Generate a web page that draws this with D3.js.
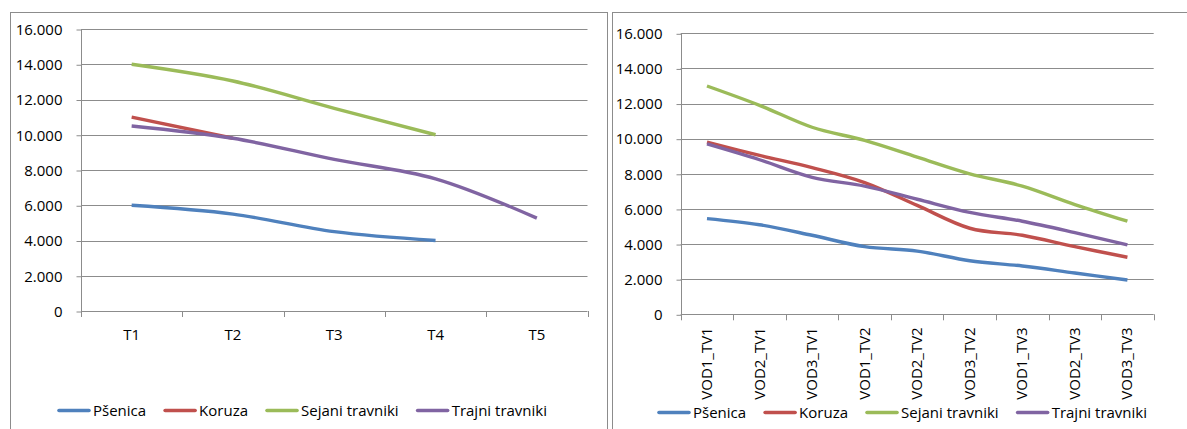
<!DOCTYPE html>
<html>
<head>
<meta charset="utf-8">
<script src="https://cdn.jsdelivr.net/npm/d3@7"></script>
<style>
  html, body { margin: 0; padding: 0; background: #fff; }
  svg { display: block; }
  text { font-family: "Open Sans", Lato, "Liberation Sans", sans-serif; fill: #000; }
</style>
</head>
<body>
<svg id="chart" width="1187" height="429"></svg>
<script>
// Series names and colours (shared by both panels)
const seriesNames = ["Pšenica", "Koruza", "Sejani travniki", "Trajni travniki"];
const seriesColors = ["#4F81BD", "#C0504D", "#9BBB59", "#8064A2"];

// Left panel: periods T1..T5 (null = no value)
const periods = ["T1", "T2", "T3", "T4", "T5"];
const psenicaT = [6000, 5500, 4500, 4000, null];
const koruzaT = [11000, 9800, null, null, null];
const sejaniT = [14000, 13050, 11500, 10000, null];
const trajniT = [10500, 9800, 8600, 7500, 5270];

// Right panel: variants
const variants = ["VOD1_TV1", "VOD2_TV1", "VOD3_TV1", "VOD1_TV2", "VOD2_TV2",
                  "VOD3_TV2", "VOD1_TV3", "VOD2_TV3", "VOD3_TV3"];
const psenicaV = [5450, 5100, 4500, 3850, 3600, 3050, 2750, 2350, 1950];
const koruzaV = [9800, 9050, 8350, 7500, 6200, 4900, 4500, 3850, 3250];
const sejaniV = [13000, 11900, 10650, 9900, 8950, 8000, 7300, 6250, 5300];
const trajniV = [9700, 8800, 7800, 7300, 6550, 5800, 5300, 4650, 3950];

// Value axis ticks
const yTicks = [0, 2000, 4000, 6000, 8000, 10000, 12000, 14000, 16000];
const fmt = v => v === 0 ? "0" : d3.format(",")(v).replace(/,/g, ".");

const svg = d3.select("#chart");
const gridColor = "#8c8c8c";
const fontSize = 15;

function panel(opts) {
  const g = svg.append("g");

  // chart border
  g.append("rect")
    .attr("x", opts.box[0] + 0.5).attr("y", opts.box[1] + 0.5)
    .attr("width", opts.box[2]).attr("height", opts.box[3])
    .attr("fill", "none").attr("stroke", gridColor).attr("stroke-width", 1);

  const x = d3.scaleBand().domain(opts.cats).range([opts.left, opts.right]);
  const y = d3.scaleLinear().domain([0, 16000]).range([opts.bottom, opts.top]);

  // horizontal gridlines
  g.append("g").selectAll("line").data(yTicks.slice(1)).join("line")
    .attr("x1", opts.left).attr("x2", opts.right)
    .attr("y1", d => Math.round(y(d)) + 0.5).attr("y2", d => Math.round(y(d)) + 0.5)
    .attr("stroke", gridColor).attr("stroke-width", 1);

  // value axis
  const yAxis = g.append("g")
    .attr("transform", `translate(${Math.round(opts.left) + 0.5},0.5)`)
    .call(d3.axisLeft(y).tickValues(yTicks).tickFormat(fmt).tickSize(5).tickPadding(14));
  yAxis.attr("font-family", null).attr("font-size", null);
  yAxis.select(".domain").attr("stroke", gridColor).attr("d", `M0,${opts.top}V${opts.bottom}`);
  yAxis.selectAll(".tick line").attr("stroke", gridColor);
  yAxis.selectAll(".tick text").attr("font-size", fontSize).attr("fill", "#000");

  // category axis
  const edges = opts.cats.map(c => x(c)).concat([opts.right]);
  const xg = g.append("g");
  xg.append("line")
    .attr("x1", opts.left).attr("x2", opts.right)
    .attr("y1", Math.round(opts.bottom) + 0.5).attr("y2", Math.round(opts.bottom) + 0.5)
    .attr("stroke", gridColor);
  xg.selectAll("line.tk").data(edges).join("line").attr("class", "tk")
    .attr("x1", d => Math.round(d) + 0.5).attr("x2", d => Math.round(d) + 0.5)
    .attr("y1", opts.bottom).attr("y2", opts.bottom + 6)
    .attr("stroke", gridColor);

  if (opts.rotate) {
    xg.selectAll("text").data(opts.cats).join("text")
      .attr("transform", d => `translate(${x(d) + x.bandwidth() / 2 + 5},${opts.bottom + 13}) rotate(-90)`)
      .attr("text-anchor", "end").attr("font-size", fontSize)
      .text(d => d);
  } else {
    xg.selectAll("text").data(opts.cats).join("text")
      .attr("x", d => x(d) + x.bandwidth() / 2)
      .attr("y", opts.bottom + 28.5)
      .attr("text-anchor", "middle").attr("font-size", fontSize)
      .text(d => d);
  }

  // series lines (smoothed)
  const line = d3.line()
    .defined(d => d.v != null)
    .x(d => x(d.c) + x.bandwidth() / 2)
    .y(d => y(d.v))
    .curve(d3.curveCardinal.tension(0));
  opts.series.forEach((vals, i) => {
    g.append("path")
      .datum(opts.cats.map((c, j) => ({ c, v: vals[j] })))
      .attr("d", line)
      .attr("fill", "none")
      .attr("stroke", seriesColors[i])
      .attr("stroke-width", 3.4)
      .attr("stroke-linejoin", "round");
  });

  // legend
  const lg = g.append("g");
  let lx = opts.legendX;
  seriesNames.forEach((name, i) => {
    lg.append("line")
      .attr("x1", lx + 1).attr("x2", lx + 31)
      .attr("y1", opts.legendY).attr("y2", opts.legendY)
      .attr("stroke", seriesColors[i]).attr("stroke-width", 3.6)
      .attr("stroke-linecap", "round");
    const t = lg.append("text")
      .attr("x", lx + 35).attr("y", opts.legendY + 5.5)
      .attr("font-size", fontSize).text(name);
    lx += 35 + t.node().getComputedTextLength() + 18;
  });
}

panel({
  box: [10, 12, 597, 430],
  cats: periods,
  left: 81, right: 587.5, top: 29, bottom: 311,
  series: [psenicaT, koruzaT, sejaniT, trajniT],
  rotate: false,
  legendX: 58, legendY: 410.5
});

panel({
  box: [612, 12, 590, 430],
  cats: variants,
  left: 680.7, right: 1153.7, top: 33.3, bottom: 314.3,
  series: [psenicaV, koruzaV, sejaniV, trajniV],
  rotate: true,
  legendX: 658, legendY: 412.5
});
</script>
</body>
</html>
